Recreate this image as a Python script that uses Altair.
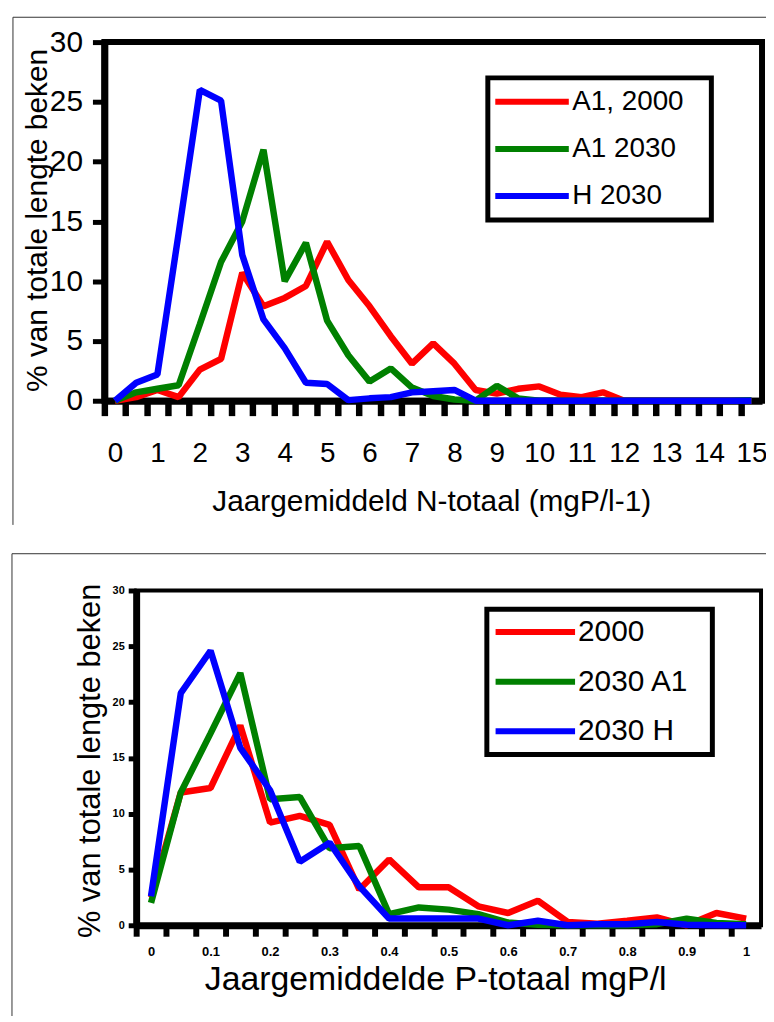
import altair as alt
import pandas as pd

FONT = "Liberation Sans"

# ---------------- Top panel: Jaargemiddeld N-totaal ----------------
n_klassen = [0, 0.5, 1, 1.5, 2, 2.5, 3, 3.5, 4, 4.5, 5, 5.5, 6, 6.5, 7, 7.5,
             8, 8.5, 9, 9.5, 10, 10.5, 11, 11.5, 12, 12.5, 13, 13.5, 14, 14.5, 15]
n_reeksen = ["A1, 2000", "A1 2030", "H 2030"]
n_a1_2000 = [0, 0.3, 0.9, 0.3, 2.6, 3.5, 10.7, 7.9, 8.6, 9.6, 13.3, 10.1, 7.9, 5.4, 3.1, 4.8,
             3.1, 0.9, 0.6, 1.0, 1.2, 0.5, 0.3, 0.7, 0, 0, 0, 0, 0, 0, 0]
n_a1_2030 = [0, 0.7, 1.0, 1.3, 6.4, 11.6, 15.0, 21.0, 10.0, 13.2, 6.7, 3.8, 1.6, 2.7, 1.1, 0.4,
             0.1, 0, 1.25, 0.2, 0, 0, 0, 0, 0, 0, 0, 0, 0, 0, 0.05]
n_h_2030 = [0, 1.5, 2.2, 14.0, 26.0, 25.1, 12.2, 6.8, 4.4, 1.5, 1.4, 0.05, 0.2, 0.3, 0.7, 0.8,
            0.9, 0, 0, 0, 0, 0, 0, 0, 0, 0, 0, 0, 0, 0, 0]

# ---------------- Bottom panel: Jaargemiddelde P-totaal ----------------
p_klassen = [0, 0.05, 0.1, 0.15, 0.2, 0.25, 0.3, 0.35, 0.4, 0.45, 0.5,
             0.55, 0.6, 0.65, 0.7, 0.75, 0.8, 0.85, 0.9, 0.95, 1.0]
p_reeksen = ["2000", "2030 A1", "2030 H"]
p_2000 = [2.5, 11.9, 12.3, 17.9, 9.2, 9.8, 9.0, 3.2, 5.9, 3.4, 3.4,
          1.7, 1.1, 2.2, 0.3, 0.15, 0.4, 0.7, 0, 1.1, 0.6]
p_2030_a1 = [2.0, 11.9, 17.2, 22.6, 11.3, 11.5, 6.9, 7.1, 1.0, 1.6, 1.4,
             1.0, 0.25, 0.05, 0, 0, 0, 0.1, 0.6, 0.2, 0.1]
p_2030_h = [2.6, 20.8, 24.6, 15.9, 12.1, 5.7, 7.4, 3.5, 0.6, 0.6, 0.6,
            0.6, 0, 0.4, 0, 0.1, 0.1, 0.3, 0.05, 0, 0]

y_ticks = [0, 5, 10, 15, 20, 25, 30]
kleuren = ["#ff0000", "#008000", "#0000ff"]


def long_table(klassen, reeksen, series):
    rows = []
    for naam, waarden in zip(reeksen, series):
        for k, v in zip(klassen, waarden):
            rows.append({"klasse": k, "pct": v, "reeks": naam})
    return pd.DataFrame(rows)


df_n = long_table(n_klassen, n_reeksen, [n_a1_2000, n_a1_2030, n_h_2030])
df_p = long_table(p_klassen, p_reeksen, [p_2000, p_2030_a1, p_2030_h])

# category boundaries (ticks sit between categories, labels in the middle)
n_step = n_klassen[1] - n_klassen[0]
n_bounds = [k - n_step / 2 for k in n_klassen]
n_edge = n_klassen[-1] + n_step / 2
p_step = round(p_klassen[1] - p_klassen[0], 4)
p_bounds = [round(k - p_step / 2, 4) for k in p_klassen]
p_edge = round(p_klassen[-1] + p_step / 2, 4)

W1, H1 = 662, 361
W2, H2 = 629, 337

frame_df = pd.DataFrame({"kader": [0]})


def frame_rules(left, top, bottom, right):
    base = alt.Chart(frame_df).mark_rule(color="#333333", strokeWidth=1)
    return [base.encode(x=alt.value(left), y=alt.value(top), y2=alt.value(bottom)),
            base.encode(y=alt.value(top), x=alt.value(left), x2=alt.value(right))]


n_half = W1 / len(n_klassen) / 2
p_half = W2 / len(p_klassen) / 2

# ---------------- top chart ----------------
top_lines = alt.Chart(df_n).mark_line(strokeWidth=6.5, strokeJoin="bevel").encode(
    x=alt.X("klasse:Q",
            scale=alt.Scale(domain=[n_bounds[0], n_edge], nice=False, zero=False),
            axis=alt.Axis(values=n_bounds,
                          labelExpr="((datum.value + 0.25) % 1 == 0) ? format(datum.value + 0.25, 'd') : ''",
                          labelOffset=n_half, labelFlush=False, labelOverlap=False,
                          labelFont=FONT, labelFontSize=28, labelColor="black",
                          labelBaseline="alphabetic", labelPadding=46,
                          tickSize=15, tickWidth=6.5, tickColor="black",
                          domainColor="black", domainWidth=7, grid=False,
                          title="Jaargemiddeld N-totaal (mgP/l-1)", titleFont=FONT, titleFontSize=30,
                          titleFontWeight="normal", titleColor="black",
                          titleX=329, titleY=110, titleBaseline="alphabetic", titleAlign="center")),
    y=alt.Y("pct:Q", scale=alt.Scale(domain=[0, 30], nice=False),
            axis=alt.Axis(values=y_ticks, labelFont=FONT, labelFontSize=30, labelColor="black",
                          labelPadding=10, labelFlush=False, tickSize=12, tickWidth=5, tickColor="black",
                          domainColor="black", domainWidth=7, grid=False,
                          title="% van totale lengte beken", titleFont=FONT, titleFontSize=30,
                          titleFontWeight="normal", titleColor="black", titleAngle=270,
                          titleX=-58, titleY=179, titleBaseline="alphabetic", titleAlign="center")),
    color=alt.Color("reeks:N", scale=alt.Scale(domain=n_reeksen, range=kleuren),
                    legend=alt.Legend(title=None, orient="none", legendX=386, legendY=36,
                                      direction="vertical", fillColor="white", strokeColor="black",
                                      padding=10,
                                      symbolType="M-1.65,0L5.75,0M17.9,0", symbolSize=400,
                                      symbolStrokeWidth=6, symbolFillColor="transparent",
                                      labelOffset=47, labelFont=FONT, labelFontSize=28, labelColor="black",
                                      rowPadding=19.5)),
)

top_chart = alt.layer(top_lines, *frame_rules(-92, -25, 486, 672)).properties(
    width=W1, height=H1, view=alt.ViewBackground(stroke="black", strokeWidth=6))

# ---------------- bottom chart ----------------
bottom_lines = alt.Chart(df_p).mark_line(strokeWidth=6.5, strokeJoin="bevel").encode(
    x=alt.X("klasse:Q",
            scale=alt.Scale(domain=[p_bounds[0], p_edge], nice=False, zero=False),
            axis=alt.Axis(values=p_bounds,
                          labelExpr="(round((datum.value + 0.025) * 20) % 2 == 0) ? format(round((datum.value + 0.025) * 10) / 10, '~g') : ''",
                          labelOffset=p_half, labelFlush=False, labelOverlap=False,
                          labelFont=FONT, labelFontSize=13, labelFontWeight="bold", labelColor="black",
                          labelBaseline="alphabetic", labelPadding=19,
                          tickSize=11, tickWidth=6, tickColor="black",
                          domainColor="black", domainWidth=7, grid=False,
                          title="Jaargemiddelde P-totaal mgP/l", titleFont=FONT, titleFontSize=34,
                          titleFontWeight="normal", titleColor="black",
                          titleX=301, titleY=65, titleBaseline="alphabetic", titleAlign="center")),
    y=alt.Y("pct:Q", scale=alt.Scale(domain=[0, 30], nice=False),
            axis=alt.Axis(values=y_ticks, labelFont=FONT, labelFontSize=11, labelFontWeight="bold",
                          labelColor="black", labelPadding=4, labelFlush=False,
                          tickSize=8, tickWidth=5, tickColor="black",
                          domainColor="black", domainWidth=7, grid=False,
                          title="% van totale lengte beken", titleFont=FONT, titleFontSize=31,
                          titleFontWeight="normal", titleColor="black", titleAngle=270,
                          titleX=-37, titleY=171, titleBaseline="alphabetic", titleAlign="center")),
    color=alt.Color("reeks:N", scale=alt.Scale(domain=p_reeksen, range=kleuren),
                    legend=alt.Legend(title=None, orient="none", legendX=353, legendY=19,
                                      direction="vertical", fillColor="white", strokeColor="black",
                                      padding=7.8,
                                      symbolType="M-1.4,0L6.6,0M18.4,0", symbolSize=400,
                                      symbolStrokeWidth=6, symbolFillColor="transparent",
                                      labelOffset=54, labelFont=FONT, labelFontSize=30, labelColor="black",
                                      rowPadding=20)),
)

bottom_chart = alt.layer(bottom_lines, *frame_rules(-125, -37, 432, 639)).properties(
    width=W2, height=H2, view=alt.ViewBackground(stroke="black", strokeWidth=4))


def spacer():
    return alt.Chart(frame_df).mark_rect(opacity=0).properties(
        width=1, height=1, view=alt.ViewBackground(stroke="transparent", strokeWidth=0))


row_top = alt.hconcat(spacer(), top_chart, spacing=0).resolve_scale(color="independent")
row_bottom = alt.hconcat(spacer(), bottom_chart, spacing=0).resolve_scale(color="independent")

chart = alt.vconcat(row_top, row_bottom, spacing=22).resolve_scale(
    color="independent", x="independent", y="independent"
).properties(
    padding={"left": 0, "top": 2, "right": -10, "bottom": -10},
    background="white",
).configure_legend(strokeWidth=5)

chart.save("out.html", embed_options={"renderer": "svg", "actions": False})
